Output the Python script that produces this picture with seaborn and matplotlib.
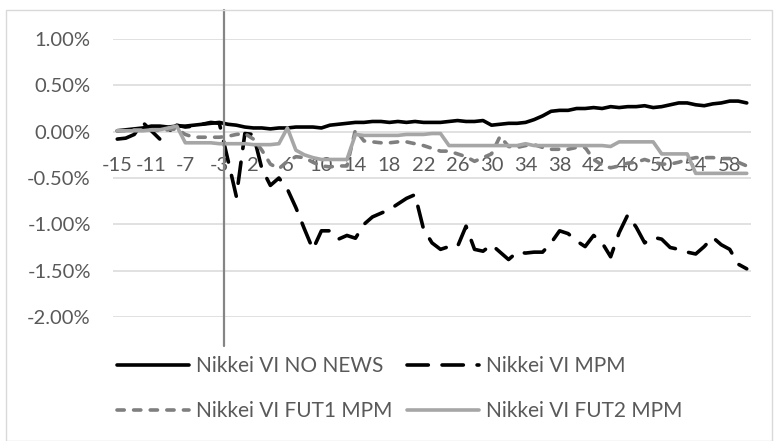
"""
Nikkei VI event-window plot (cumulative change around announcements).
"""

import numpy as np
import pandas as pd
import seaborn as sns
from matplotlib import pyplot as plt
from matplotlib.patches import Rectangle

# event days: -15..-1, then 1..60 (no day 0)
days = list(range(-15, 0)) + list(range(1, 61))

no_news = [
    0.01, 0.02, 0.03, 0.04, 0.06, 0.06, 0.05, 0.06, 0.06, 0.07,
    0.08, 0.09, 0.10, 0.08, 0.07, 0.05, 0.04, 0.04, 0.03, 0.04,
    0.04, 0.05, 0.05, 0.05, 0.04, 0.07, 0.08, 0.09, 0.10, 0.10,
    0.11, 0.11, 0.10, 0.11, 0.10, 0.11, 0.10, 0.10, 0.10, 0.11,
    0.12, 0.11, 0.11, 0.12, 0.07, 0.08, 0.09, 0.09, 0.10, 0.13,
    0.17, 0.22, 0.23, 0.23, 0.25, 0.25, 0.26, 0.25, 0.27, 0.26,
    0.27, 0.27, 0.28, 0.26, 0.27, 0.29, 0.31, 0.31, 0.29, 0.28,
    0.30, 0.31, 0.33, 0.33, 0.31,
]

mpm = [
    -0.08, -0.07, -0.03, 0.10, 0.01, -0.08, 0.00, 0.07, 0.05, 0.06,
    0.08, 0.10, 0.09, -0.30, -0.70, -0.02, -0.03, -0.40, -0.58, -0.50,
    -0.62, -0.82, -1.05, -1.27, -1.07, -1.07, -1.16, -1.12, -1.15, -1.00,
    -0.92, -0.88, -0.84, -0.78, -0.72, -0.68, -1.05, -1.20, -1.27, -1.24,
    -1.24, -1.02, -1.27, -1.29, -1.22, -1.30, -1.38, -1.30, -1.31, -1.30,
    -1.30, -1.20, -1.07, -1.10, -1.18, -1.24, -1.12, -1.20, -1.35, -1.09,
    -0.90, -1.03, -1.20, -1.14, -1.16, -1.25, -1.27, -1.30, -1.32, -1.24,
    -1.14, -1.22, -1.27, -1.43, -1.48,
]

fut1 = [
    0.01, 0.01, 0.02, 0.02, 0.02, 0.01, 0.02, 0.03, -0.03, -0.06,
    -0.06, -0.06, -0.06, -0.05, -0.03, -0.02, -0.08, -0.20, -0.35, -0.40,
    -0.32, -0.27, -0.28, -0.33, -0.37, -0.38, -0.37, -0.37, 0.02, -0.10,
    -0.11, -0.12, -0.12, -0.11, -0.11, -0.13, -0.15, -0.18, -0.21, -0.21,
    -0.24, -0.27, -0.32, -0.28, -0.24, -0.05, -0.16, -0.17, -0.15, -0.14,
    -0.17, -0.19, -0.19, -0.19, -0.17, -0.17, -0.30, -0.36, -0.39, -0.37,
    -0.34, -0.33, -0.30, -0.33, -0.35, -0.35, -0.33, -0.30, -0.28, -0.28,
    -0.28, -0.29, -0.29, -0.33, -0.37,
]

fut2 = [
    0.01, 0.01, 0.01, 0.01, 0.02, 0.02, 0.04, 0.06, -0.12, -0.12,
    -0.12, -0.12, -0.13, -0.13, -0.13, -0.13, -0.14, -0.14, -0.14, -0.13,
    0.04, -0.20, -0.25, -0.28, -0.30, -0.30, -0.30, -0.30, -0.03, -0.04,
    -0.04, -0.04, -0.04, -0.04, -0.03, -0.03, -0.03, -0.02, -0.02, -0.15,
    -0.15, -0.15, -0.15, -0.15, -0.15, -0.15, -0.15, -0.15, -0.13, -0.15,
    -0.15, -0.15, -0.15, -0.15, -0.15, -0.15, -0.15, -0.15, -0.16, -0.11,
    -0.11, -0.11, -0.11, -0.11, -0.24, -0.24, -0.24, -0.24, -0.45, -0.45,
    -0.45, -0.45, -0.45, -0.45, -0.45,
]

names = ["Nikkei VI NO NEWS", "Nikkei VI MPM", "Nikkei VI FUT1 MPM", "Nikkei VI FUT2 MPM"]
series = [no_news, mpm, fut1, fut2]

df = pd.concat(
    [pd.DataFrame({"pos": np.arange(len(days)), "value": v, "series": n})
     for n, v in zip(names, series)],
    ignore_index=True,
)

sns.set_style("white")
plt.rcParams["font.family"] = ["Lato", "DejaVu Sans"]

palette = {names[0]: "#000000", names[1]: "#000000",
           names[2]: "#7f7f7f", names[3]: "#a6a6a6"}
dashes = {names[0]: "", names[1]: (5.9, 3.8),
          names[2]: (2.0, 2.6), names[3]: ""}

fig = plt.figure(figsize=(7.74, 4.41), dpi=100)
ax = fig.add_axes([113 / 774, 1 - 317 / 441, 638 / 774, 278 / 441])

sns.lineplot(data=df, x="pos", y="value", hue="series", style="series",
             palette=palette, dashes=dashes, linewidth=2.6, ax=ax,
             hue_order=names, style_order=names)

for ln in ax.lines:
    ln.set_dash_capstyle("round")
    ln.set_solid_capstyle("round")

# event marker
ax.axvline(12.55, ymin=-0.104, ymax=1.104, color="#858585", lw=1.6,
           clip_on=False, zorder=5)

ax.set_xlim(-0.5, len(days) - 0.5)
ax.set_ylim(-2.0, 1.0)
ax.set_yticks([1.0, 0.5, 0.0, -0.5, -1.0, -1.5, -2.0])
ax.set_yticklabels([f"{t:.2f}%" for t in ax.get_yticks()])
tick_pos = list(range(0, len(days), 4))
ax.set_xticks(tick_pos)
ax.set_xticklabels([str(days[i]) for i in tick_pos])
ax.grid(axis="y", color="#d9d9d9", lw=1.1)
ax.set_axisbelow(True)
for s in ax.spines.values():
    s.set_visible(False)
ax.spines["bottom"].set_position(("data", 0))
ax.tick_params(axis="x", length=0, pad=18, labelsize=14.5, labelcolor="#595959")
ax.tick_params(axis="y", length=0, pad=16, labelsize=14.5, labelcolor="#595959")
ax.set_xlabel("")
ax.set_ylabel("")

handles, labels = ax.get_legend_handles_labels()
ax.get_legend().remove()
for h in handles:
    h.set_dash_capstyle("round")
    h.set_linewidth(2.6)
# row-wise order: matplotlib fills legend columns first
order = [0, 2, 1, 3]
fig.legend([handles[i] for i in order], [labels[i] for i in order],
           loc="upper left", bbox_to_anchor=(117 / 774, 1 - 356 / 441),
           ncol=2, frameon=False, fontsize=15, labelcolor="#595959",
           handlelength=3.45, handletextpad=0.34, columnspacing=0.72,
           labelspacing=1.2, borderpad=0, borderaxespad=0)

# chart border
fig.patches.append(Rectangle((6 / 774, 0), 766 / 774, 1 - 10 / 441,
                             transform=fig.transFigure, fill=False,
                             edgecolor="#d9d9d9", lw=1.0))

fig.savefig("out.png", dpi=100)
plt.close(fig)
